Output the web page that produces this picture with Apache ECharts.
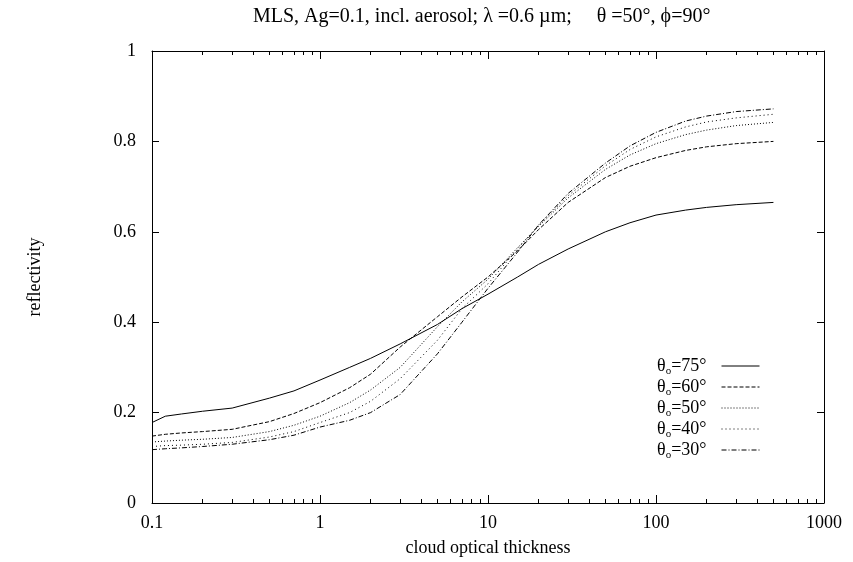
<!DOCTYPE html>
<html>
<head>
<meta charset="utf-8">
<script src="https://cdn.jsdelivr.net/npm/echarts@6/dist/echarts.min.js"></script>
<style>
  html, body { margin: 0; padding: 0; background: #fff; }
  #chart { width: 853px; height: 562px; }
</style>
</head>
<body>
<div id="chart"></div>
<script>
// cloud optical thickness (x) and reflectivity for each solar zenith angle
const tau = [0.1, 0.12, 0.15, 0.2, 0.3, 0.5, 0.7, 1, 1.5, 2, 3, 5, 7, 10, 15, 20, 30, 50, 70, 100, 150, 200, 300, 500];
const r75 = [0.178, 0.192, 0.197, 0.203, 0.210, 0.232, 0.248, 0.272, 0.300, 0.320, 0.352, 0.395, 0.430, 0.462, 0.500, 0.528, 0.562, 0.600, 0.620, 0.637, 0.648, 0.654, 0.660, 0.665];
const r60 = [0.148, 0.152, 0.155, 0.158, 0.163, 0.180, 0.198, 0.222, 0.255, 0.285, 0.345, 0.412, 0.456, 0.500, 0.558, 0.605, 0.665, 0.720, 0.745, 0.764, 0.780, 0.788, 0.795, 0.800];
const r50 = [0.135, 0.137, 0.139, 0.141, 0.145, 0.158, 0.172, 0.192, 0.222, 0.250, 0.300, 0.390, 0.445, 0.495, 0.565, 0.612, 0.675, 0.738, 0.770, 0.795, 0.815, 0.825, 0.835, 0.842];
const r40 = [0.125, 0.127, 0.128, 0.130, 0.134, 0.146, 0.158, 0.178, 0.200, 0.225, 0.275, 0.360, 0.430, 0.485, 0.562, 0.615, 0.680, 0.746, 0.782, 0.810, 0.832, 0.843, 0.852, 0.860];
const r30 = [0.118, 0.120, 0.122, 0.125, 0.130, 0.140, 0.150, 0.168, 0.183, 0.200, 0.240, 0.330, 0.400, 0.475, 0.555, 0.615, 0.685, 0.752, 0.790, 0.820, 0.845, 0.856, 0.866, 0.872];

const angles = ['75', '60', '50', '40', '30'];
const curves = [r75, r60, r50, r40, r30];
const dashes = ['solid', [4, 2], [1, 2], [1, 3], [5, 2, 1, 2]];

const xTicks = [0.1, 1, 10, 100, 1000];
const yTicks = [0, 0.2, 0.4, 0.6, 0.8, 1];

// minor ticks of the log axis, in decades (2..9 in each)
const minorExp = [];
for (let k = -1; k < 3; k++) {
    for (let m = 2; m <= 9; m++) minorExp.push(Math.log10(m * Math.pow(10, k)));
}

const FONT = 'Liberation Serif';
const FS = 18;
const black = '#000';

const chart = echarts.init(document.getElementById('chart'));

function logAxis(pos, showLabel) {
    return {
        type: 'log', logBase: 10, min: xTicks[0], max: xTicks[xTicks.length - 1],
        position: pos,
        axisLine: { show: true, onZero: false, lineStyle: { color: black, width: 1 } },
        axisTick: { show: true, inside: true, length: 8, lineStyle: { color: black } },
        axisLabel: { show: showLabel, margin: 11, fontFamily: FONT, fontSize: FS, color: black,
            formatter: v => String(v) },
        splitLine: { show: false },
        minorTick: { show: false }
    };
}

function minorAxis(pos) {
    return {
        type: 'value', min: -1, max: 3, position: pos,
        axisLine: { show: false, onZero: false },
        axisTick: { show: true, inside: true, length: 4, customValues: minorExp, lineStyle: { color: black } },
        axisLabel: { show: false },
        splitLine: { show: false }
    };
}

const bottomAxis = logAxis('bottom', true);
bottomAxis.name = 'cloud optical thickness';
bottomAxis.nameLocation = 'middle';
bottomAxis.nameGap = 36;
bottomAxis.nameTextStyle = { fontFamily: FONT, fontSize: FS, color: black };

function yAxis(pos, showLabel) {
    return {
        type: 'value', min: yTicks[0], max: yTicks[yTicks.length - 1], interval: 0.2, position: pos,
        axisLine: { show: true, onZero: false, lineStyle: { color: black, width: 1 } },
        axisTick: { show: true, inside: true, length: 7, lineStyle: { color: black } },
        axisLabel: { show: showLabel, margin: 16, fontFamily: FONT, fontSize: FS, color: black },
        splitLine: { show: false }
    };
}

const leftAxis = yAxis('left', true);
leftAxis.name = 'reflectivity';
leftAxis.nameLocation = 'middle';
leftAxis.nameGap = 108;
leftAxis.nameRotate = 90;
leftAxis.nameTextStyle = { fontFamily: FONT, fontSize: FS, color: black };

const series = angles.map((a, i) => ({
    name: a,
    type: 'line',
    xAxisIndex: 0,
    yAxisIndex: 0,
    symbol: 'none',
    smooth: false,
    lineStyle: { color: black, width: 1, type: dashes[i] },
    itemStyle: { color: black },
    data: tau.map((t, j) => [t, curves[i][j]])
}));

chart.setOption({
    animation: false,
    backgroundColor: '#fff',
    title: {
        text: 'MLS, Ag=0.1, incl. aerosol; λ =0.6 µm;     θ =50°, ϕ=90°',
        left: 248, top: 2,
        textStyle: { fontFamily: FONT, fontSize: 20, fontWeight: 'normal', color: black }
    },
    grid: { left: 152, right: 29, top: 51, bottom: 57 },
    legend: {
        orient: 'vertical',
        right: 88, top: 352,
        align: 'right',
        itemWidth: 38, itemHeight: 10, itemGap: 1.5,
        data: angles,
        itemStyle: { opacity: 0 },
        lineStyle: { width: 1 },
        formatter: name => `{t|θ}{s|o}{t|=${name}°}`,
        textStyle: {
            color: black, fontFamily: FONT, fontSize: FS, padding: [0, 10, 0, 0],
            rich: {
                t: { fontFamily: FONT, fontSize: FS, color: black },
                s: { fontFamily: FONT, fontSize: 11, color: black, padding: [10, 0, 0, 0] }
            }
        }
    },
    xAxis: [bottomAxis, minorAxis('bottom'), logAxis('top', false), minorAxis('top')],
    yAxis: [leftAxis, yAxis('right', false)],
    series: series
});
</script>
</body>
</html>
